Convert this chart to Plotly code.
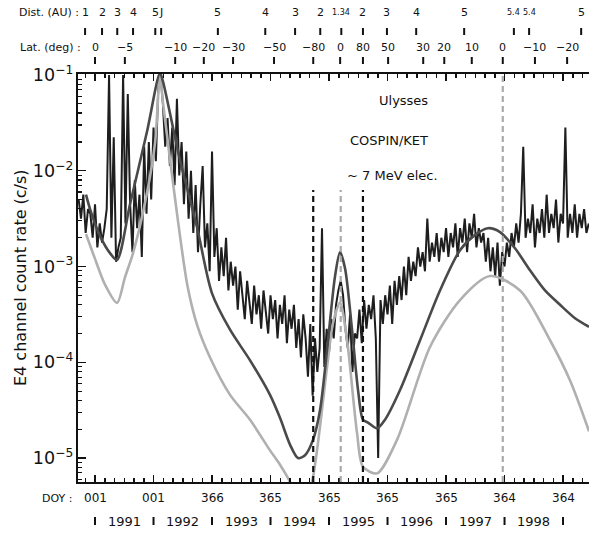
import numpy as np
import plotly.graph_objects as go

# ---------------- data ----------------
# Observed E4 count rate (log10 c/s), sampled every 0.04 yr starting 1990.72
data_t0 = 1990.72
data_dt = 0.04
data_log10_rate = [
    -2.30, -2.50, -2.25, -2.65, -2.40, -2.45, -2.70, -2.35, -2.80, -2.55,
    -2.75, -2.60, -2.40, -1.00, -2.70, -1.65, -2.95, -2.80, -2.70, -1.00,
    -2.55, -1.20, -2.35, -2.85, -2.10, -2.60, -2.25, -2.90, -1.75, -2.45,
    -1.70, -2.30, -1.55, -1.90, -1.15, -1.00, -1.30, -1.75, -1.45, -1.95,
    -1.55, -2.15, -1.25, -2.05, -1.70, -2.35, -1.80, -2.50, -2.00, -2.65,
    -2.15, -2.85, -2.35, -1.95, -2.80, -2.55, -3.05, -1.80, -2.90, -2.60,
    -3.15, -2.80, -3.10, -2.70, -3.25, -2.95, -3.20, -3.00, -3.45, -3.05,
    -3.30, -3.55, -3.15, -3.40, -3.60, -3.20, -3.50, -3.30, -3.65, -3.25,
    -3.45, -3.70, -3.30, -3.55, -3.35, -3.75, -3.40, -3.60, -3.30, -3.80,
    -3.45, -3.65, -3.40, -3.85, -3.55, -3.95, -3.50, -3.75, -4.15, -3.60,
    -4.35, -3.75, -4.10, -3.85, -2.60, -4.05, -3.65, -3.90, -3.55, -3.75,
    -3.40, -3.25, -3.15, -3.30, -3.65, -3.85, -3.50, -4.10, -3.70, -3.75,
    -3.45, -3.80, -3.35, -3.65, -3.40, -3.55, -3.30, -3.75, -5.00, -3.35,
    -3.60, -3.30, -3.50, -3.20, -3.60, -3.15, -3.40, -3.10, -3.35, -3.00,
    -3.30, -2.90, -3.15, -2.95, -3.10, -2.80, -3.00, -2.85, -3.05, -2.50,
    -2.95, -2.75, -2.90, -2.65, -2.95, -2.70, -2.85, -2.60, -2.90, -2.65,
    -2.80, -2.55, -2.90, -2.60, -2.75, -2.50, -2.85, -2.55, -2.70, -2.45,
    -2.80, -2.60, -2.75, -2.65, -2.95, -2.70, -3.05, -2.80, -3.10, -2.75,
    -3.20, -2.85, -3.00, -2.75, -2.90, -2.65, -2.80, -2.55, -2.75, -2.45,
    -1.75, -2.70, -2.50, -2.65, -2.35, -2.80, -2.50, -2.65, -2.40, -2.70,
    -2.25, -2.65, -2.45, -2.60, -2.30, -2.75, -2.45, -2.55, -1.55, -2.70,
    -2.45, -2.65, -2.35, -2.70, -2.45, -2.60, -2.40, -2.65, -2.55,
]

# Model curve 1 (dark grey)
dark_year = [1990.846, 1990.915, 1991.085, 1991.256, 1991.376, 1991.598, 1991.889,
             1992.111, 1992.162, 1992.453, 1992.744, 1993.000, 1993.308, 1993.650,
             1993.991, 1994.162, 1994.333, 1994.470, 1994.590, 1994.726, 1994.846,
             1994.983, 1995.103, 1995.188, 1995.274, 1995.393, 1995.496, 1995.581,
             1995.667, 1995.821, 1995.957, 1996.214, 1996.556, 1996.897, 1997.239,
             1997.496, 1997.718, 1997.923, 1998.179, 1998.436, 1998.692, 1998.949,
             1999.205, 1999.444]
dark_log10_rate = [-2.25, -2.40, -2.68, -2.86, -2.93, -2.35, -1.59,
                   -0.98, -1.07, -1.89, -2.59, -3.28, -3.66, -3.98,
                   -4.34, -4.58, -4.86, -5.00, -4.97, -4.81, -4.50,
                   -3.77, -3.10, -2.85, -3.02, -3.66, -4.29, -4.60,
                   -4.63, -4.69, -4.60, -4.29, -3.77, -3.25, -2.83,
                   -2.67, -2.60, -2.64, -2.81, -3.04, -3.25, -3.40,
                   -3.54, -3.63]

# Model curve 2 (light grey)
light_year = [1990.846, 1991.000, 1991.171, 1991.376, 1991.513, 1991.650, 1991.889,
              1992.026, 1992.111, 1992.162, 1992.402, 1992.580, 1992.750, 1992.966,
              1993.308, 1993.650, 1993.991, 1994.162, 1994.333, 1994.550, 1994.726,
              1994.966, 1995.068, 1995.188, 1995.308, 1995.479, 1995.581, 1995.821,
              1996.162, 1996.726, 1997.239, 1997.752, 1998.265, 1998.778, 1999.120,
              1999.444]
light_log10_rate = [-2.66, -2.92, -3.19, -3.38, -3.11, -2.86, -2.23,
                    -1.71, -1.00, -1.29, -2.45, -3.20, -3.62, -3.95,
                    -4.34, -4.60, -4.92, -5.07, -5.25, -5.60, -5.20,
                    -4.05, -3.59, -3.38, -3.77, -4.74, -5.09, -5.16,
                    -4.81, -3.84, -3.35, -3.10, -3.25, -3.77, -4.19,
                    -4.72]

# Top scales: heliocentric distance and latitude
dist_year = [1990.83, 1991.12, 1991.38, 1991.65, 1992.03, 1992.13, 1993.10, 1993.91,
             1994.42, 1994.85, 1995.21, 1995.58, 1995.99, 1996.49, 1997.31, 1998.16,
             1998.42, 1999.31]
dist_label = ["1", "2", "3", "4", "5", "J", "5", "4", "3", "2", "1.34", "2", "3",
              "4", "5", "5.4", "5.4", "5"]
lat_year = [1991.00, 1991.51, 1992.37, 1992.86, 1993.36, 1994.06, 1994.73, 1995.19,
            1995.58, 1996.01, 1996.61, 1996.97, 1997.44, 1997.97, 1998.52, 1999.07]
lat_label = ["0", "\u22125", "\u221210", "\u221220", "\u221230", "\u221250", "\u221280",
             "0", "80", "50", "30", "20", "10", "0", "\u221210", "\u221220"]

# Vertical markers
black_dash_year = [1994.73, 1995.58]
grey_dash_year = [1995.20, 1997.97]

# Bottom scale
doy_year = [1991, 1992, 1993, 1994, 1995, 1996, 1997, 1998, 1999]
doy_label = ["001", "001", "366", "365", "365", "365", "365", "364", "364"]
year_bounds = [1991, 1992, 1993, 1994, 1995, 1996, 1997, 1998, 1999]
year_label = ["1991", "1992", "1993", "1994", "1995", "1996", "1997", "1998"]

# ---------------- figure ----------------
FONT = "DejaVu Sans"
INK = "#111111"

data_year = data_t0 + data_dt * np.arange(len(data_log10_rate))

fig = go.Figure()
fig.add_trace(go.Scatter(x=data_year, y=10 ** np.array(data_log10_rate), mode="lines",
                         line=dict(color="#1e1e1e", width=2), hoverinfo="skip"))
fig.add_trace(go.Scatter(x=light_year, y=10 ** np.array(light_log10_rate), mode="lines",
                         line=dict(color="#b0b0b0", width=2.6, shape="spline", smoothing=0.8),
                         hoverinfo="skip"))
fig.add_trace(go.Scatter(x=dark_year, y=10 ** np.array(dark_log10_rate), mode="lines",
                         line=dict(color="#4a4a4a", width=2.6, shape="spline", smoothing=0.8),
                         hoverinfo="skip"))

# plot area geometry (pixels) used to express paper coordinates
L_PX, R_PX, T_PX, B_PX = 78, 589, 74, 482
W_PX, H_PX = R_PX - L_PX, B_PX - T_PX


def py(p):
    return (B_PX - p) / H_PX


def px(p):
    return (p - L_PX) / W_PX


shapes = []
for yr in black_dash_year:
    shapes.append(dict(type="line", xref="x", yref="paper", x0=yr, x1=yr, y0=0, y1=py(190),
                       line=dict(color="#111111", width=2.2, dash="6px,4px"), layer="above"))
for i, yr in enumerate(grey_dash_year):
    top = py(190) if i == 0 else 1
    shapes.append(dict(type="line", xref="x", yref="paper", x0=yr, x1=yr, y0=0, y1=top,
                       line=dict(color="#aaaaaa", width=2.2, dash="6px,4px"), layer="above"))

annotations = []
# Distance row
annotations.append(dict(text="Dist. (AU) :", xref="paper", yref="paper", x=px(81), y=py(12),
                        xanchor="right", yanchor="middle", showarrow=False,
                        font=dict(size=11, family=FONT, color=INK)))
for yr, lab in zip(dist_year, dist_label):
    size = 8 if "." in lab else 11
    annotations.append(dict(text=lab, xref="x", yref="paper", x=yr, y=py(12),
                            xanchor="center", yanchor="middle", showarrow=False,
                            font=dict(size=size, family=FONT, color=INK)))
    shapes.append(dict(type="line", xref="x", yref="paper", x0=yr, x1=yr, y0=py(28), y1=py(35),
                       line=dict(color=INK, width=2)))
# Latitude row
annotations.append(dict(text="Lat. (deg) :", xref="paper", yref="paper", x=px(83), y=py(47),
                        xanchor="right", yanchor="middle", showarrow=False,
                        font=dict(size=11, family=FONT, color=INK)))
for yr, lab in zip(lat_year, lat_label):
    annotations.append(dict(text=lab, xref="x", yref="paper", x=yr, y=py(47),
                            xanchor="center", yanchor="middle", showarrow=False,
                            font=dict(size=11, family=FONT, color=INK)))
    shapes.append(dict(type="line", xref="x", yref="paper", x0=yr, x1=yr, y0=py(57), y1=py(64),
                       line=dict(color=INK, width=2)))

# DOY row
annotations.append(dict(text="DOY :", xref="paper", yref="paper", x=px(74), y=py(498),
                        xanchor="right", yanchor="middle", showarrow=False,
                        font=dict(size=11, family=FONT, color=INK)))
for yr, lab in zip(doy_year, doy_label):
    annotations.append(dict(text=lab, xref="x", yref="paper", x=yr, y=py(498),
                            xanchor="center", yanchor="middle", showarrow=False,
                            font=dict(size=12, family=FONT, color=INK)))
# Year row
for yr in year_bounds:
    shapes.append(dict(type="line", xref="x", yref="paper", x0=yr, x1=yr, y0=py(517), y1=py(525),
                       line=dict(color=INK, width=2)))
for i, lab in enumerate(year_label):
    mid = (year_bounds[i] + year_bounds[i + 1]) / 2
    annotations.append(dict(text=lab, xref="x", yref="paper", x=mid, y=py(521),
                            xanchor="center", yanchor="middle", showarrow=False,
                            font=dict(size=13, family=FONT, color=INK)))

# Instrument labels
annotations += [
    dict(text="Ulysses", xref="paper", yref="paper", x=px(430), y=py(91), showarrow=False,
         font=dict(size=13, family=FONT, color=INK)),
    dict(text="COSPIN/KET", xref="paper", yref="paper", x=px(430), y=py(131), showarrow=False,
         font=dict(size=13, family=FONT, color=INK)),
    dict(text="~ 7 MeV elec.", xref="paper", yref="paper", x=px(440), y=py(166), showarrow=False,
         font=dict(size=13, family=FONT, color=INK)),
    dict(text="E4 channel count rate (c/s)", xref="paper", yref="paper", x=0, xshift=-58,
         y=0.5, textangle=-90, showarrow=False, xanchor="center", yanchor="middle",
         font=dict(size=16, family=FONT, color=INK)),
]

fig.update_layout(
    width=589, height=538,
    margin=dict(l=L_PX, r=589 - R_PX, t=T_PX, b=538 - B_PX),
    plot_bgcolor="white", paper_bgcolor="white", showlegend=False,
    font=dict(family=FONT, color=INK),
    shapes=shapes, annotations=annotations,
)
fig.update_xaxes(
    range=[1990.709, 1999.444], showgrid=False, zeroline=False,
    showline=True, linewidth=2, linecolor=INK, mirror="ticks",
    ticks="inside", ticklen=7, tickwidth=1.5, tickcolor=INK,
    tick0=1991, dtick=1, showticklabels=False,
    minor=dict(ticks="inside", ticklen=4, tickwidth=1.5, tickcolor=INK, tick0=1991, dtick=1 / 6),
)
fig.update_yaxes(
    type="log", range=[-5.25, -0.99], showgrid=False, zeroline=False,
    showline=True, linewidth=2, linecolor=INK,
    ticks="inside", ticklen=8, tickwidth=1.5, tickcolor=INK,
    dtick=1, exponentformat="power", showexponent="all",
    tickfont=dict(size=14, family=FONT, color=INK),
    minor=dict(ticks="inside", ticklen=4, tickwidth=1.2, tickcolor=INK, dtick="D1"),
)

fig.write_html("out.html", config={"displayModeBar": False, "staticPlot": True},
               post_script="document.body.style.margin='0';document.body.style.padding='0';")
